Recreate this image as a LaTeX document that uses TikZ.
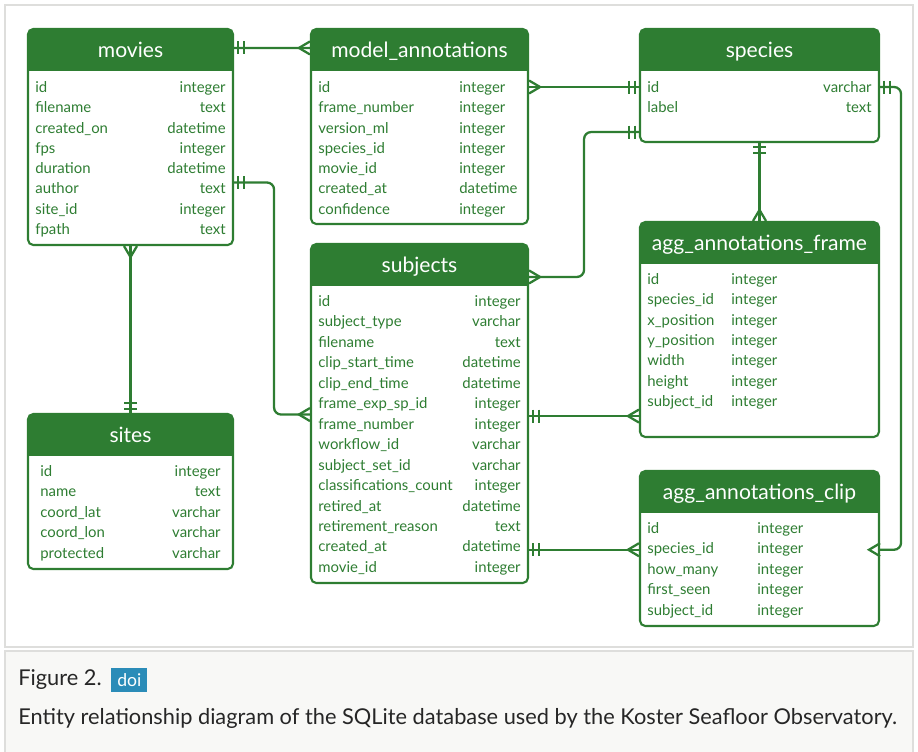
\documentclass[tikz,border=0pt]{standalone}
\usepackage{fontspec}
\setmainfont{Lato}
\usetikzlibrary{fit,calc}

\definecolor{ergreen}{RGB}{46,125,50}
\definecolor{framegray}{RGB}{222,222,220}
\definecolor{capbg}{RGB}{248,248,246}
\definecolor{doiblue}{RGB}{43,140,184}

\tikzset{
  tbl/.style={draw=ergreen, line width=1.2pt, rounded corners=3pt, inner sep=0pt},
  hdr/.style={fill=ergreen},
  hdrtext/.style={text=white, font=\fontsize{12}{14}\selectfont, anchor=mid, inner sep=0pt},
  fld/.style={text=ergreen, font=\fontsize{8.5}{10}\selectfont, anchor=mid west, inner sep=0pt},
  typr/.style={fld, anchor=mid east},
  link/.style={draw=ergreen, line width=1.3pt},
  % cardinality marks, box edge at the origin
  onestart/.pic={\draw[link] (4,-6.5) -- (4,6.5) (10,-6.5) -- (10,6.5);},
  oneend/.pic={\draw[link] (-4,-6.5) -- (-4,6.5) (-10,-6.5) -- (-10,6.5);},
  manystart/.pic={\draw[link,sharp corners] (0,-6.5) -- (11,0) -- (0,6.5);},
  manyend/.pic={\draw[link,sharp corners] (0,-6.5) -- (-11,0) -- (0,6.5);},
}

% table frame with filled title bar
\newcommand\ertable[6]{%
  \node[tbl, fit={(#2,#3) (#4,#5)}] (#1) {};
  \fill[hdr, rounded corners=3pt] (#2,#3) rectangle (#4,#3+41.5);
  \fill[hdr] (#2,#3+20) rectangle (#4,#3+41.5);
  \node[hdrtext] (#1-title) at ({(#2+#4)/2},#3+24.5) {#6};
}

\begin{document}
\begin{tikzpicture}[x=0.02cm, y=-0.02cm]
\useasboundingbox (0,0) rectangle (918,751);
\draw[framegray, line width=1pt] (5,5) rectangle (913,647);
\fill[capbg] (5,651) rectangle (913,760);
\draw[framegray, line width=1pt] (5,760) -- (5,651) -- (913,651) -- (913,760);

% movies
\ertable{movies}{28}{29}{233}{245}{movies}
\foreach \fn/\ty [count=\i from 0] in {id/integer, filename/text, created\_on/datetime, fps/integer,
    duration/datetime, author/text, site\_id/integer, fpath/text}
  {\node[fld] (movies-f\i) at (35,88+\i*20.3) {\fn};
   \node[typr] (movies-t\i) at (226,88+\i*20.3) {\ty};}

% model_annotations
\ertable{model}{311}{29}{528}{224}{model\_annotations}
\foreach \fn/\ty [count=\i from 0] in {id/integer, frame\_number/integer, version\_ml/integer,
    species\_id/integer, movie\_id/integer, created\_at/datetime, confidence/integer}
  {\node[fld] (model-f\i) at (318,88+\i*20.3) {\fn};
   \node[fld] (model-t\i) at (459,88+\i*20.3) {\ty};}

% species
\ertable{species}{640}{29}{879}{142}{species}
\foreach \fn/\ty [count=\i from 0] in {id/varchar, label/text}
  {\node[fld] (species-f\i) at (647,88+\i*20.3) {\fn};
   \node[typr] (species-t\i) at (872,88+\i*20.3) {\ty};}

% agg_annotations_frame
\ertable{aggframe}{640}{222}{879}{437}{agg\_annotations\_frame}
\foreach \fn/\ty [count=\i from 0] in {id/integer, species\_id/integer, x\_position/integer,
    y\_position/integer, width/integer, height/integer, subject\_id/integer}
  {\node[fld] (aggframe-f\i) at (647,280+\i*20.35) {\fn};
   \node[fld] (aggframe-t\i) at (731,280+\i*20.35) {\ty};}

% subjects
\ertable{subjects}{311}{244}{528}{583}{subjects}
\foreach \fn/\ty [count=\i from 0] in {id/integer, subject\_type/varchar, filename/text,
    clip\_start\_time/datetime, clip\_end\_time/datetime, frame\_exp\_sp\_id/integer,
    frame\_number/integer, workflow\_id/varchar, subject\_set\_id/varchar,
    classifications\_count/integer, retired\_at/datetime, retirement\_reason/text,
    created\_at/datetime, movie\_id/integer}
  {\node[fld] (subjects-f\i) at (318,302+\i*20.46) {\fn};
   \node[typr] (subjects-t\i) at (521,302+\i*20.46) {\ty};}

% sites
\ertable{sites}{28}{414}{233}{569}{sites}
\foreach \fn/\ty [count=\i from 0] in {id/integer, name/text, coord\_lat/varchar,
    coord\_lon/varchar, protected/varchar}
  {\node[fld] (sites-f\i) at (40,472+\i*20.5) {\fn};
   \node[typr] (sites-t\i) at (221,472+\i*20.5) {\ty};}

% agg_annotations_clip
\ertable{aggclip}{640}{471}{879}{626}{agg\_annotations\_clip}
\foreach \fn/\ty [count=\i from 0] in {id/integer, species\_id/integer, how\_many/integer,
    first\_seen/integer, subject\_id/integer}
  {\node[fld] (aggclip-f\i) at (647,529+\i*20.5) {\fn};
   \node[fld] (aggclip-t\i) at (757,529+\i*20.5) {\ty};}

% relationships
\draw[link] ($(movies.north east)+(0,20)$) -- ($(model.north west)+(0,20)$)
  pic[pos=0,sloped]{onestart} pic[pos=1,sloped]{manyend};
\draw[link] (model.east |- model-f0) -- (species.west |- species-f0)
  pic[pos=0,sloped]{manystart} pic[pos=1,sloped]{oneend};
\draw[link, rounded corners=4pt] ($(subjects.north east)+(0,34)$) -- ++(55,0)
  pic[pos=0,sloped]{manystart}
  |- ($(species.south west)+(0,-11)$) pic[pos=1,sloped]{oneend};
\draw[link] (species.south) -- (aggframe.north)
  pic[pos=0,sloped]{onestart} pic[pos=1,sloped]{manyend};
\draw[link, rounded corners=4pt] (species.east |- species-f0) -- ++(21,0)
  pic[pos=0,sloped]{onestart}
  |- (aggclip.east |- aggclip-f1) pic[pos=1,sloped]{manyend};
\draw[link, rounded corners=4pt] ($(movies.east |- movies-f5)+(0,-6)$) -- ++(40,0)
  pic[pos=0,sloped]{onestart}
  |- ($(subjects.west |- subjects-f5)+(0,10)$) pic[pos=1,sloped]{manyend};
\draw[link] (movies.south) -- (sites.north)
  pic[pos=0,sloped]{manystart} pic[pos=1,sloped]{oneend};
\coordinate (sf) at ($(aggframe.south west)+(0,-22)$);
\draw[link] (subjects.east |- sf) -- (sf)
  pic[pos=0,sloped]{onestart} pic[pos=1,sloped]{manyend};
\draw[link] (subjects.east |- aggclip-f1) -- (aggclip.west |- aggclip-f1)
  pic[pos=0,sloped]{onestart} pic[pos=1,sloped]{manyend};

% caption
\node[anchor=mid west, inner sep=0pt, text=black!85, font=\fontsize{12.4}{14}\selectfont] (figno) at (18,681) {Figure 2.};
\node[anchor=west, fill=doiblue, text=white, inner sep=0pt, minimum width=20.4pt, minimum height=14pt,
  font=\fontsize{10}{11}\selectfont] (doi) at (111,680) {doi};
\node[anchor=mid west, inner sep=0pt, text=black!85, font=\fontsize{12.4}{14}\selectfont] (capline) at (18,720)
  {Entity relationship diagram of the SQLite database used by the Koster Seafloor Observatory.};
\end{tikzpicture}
\end{document}
